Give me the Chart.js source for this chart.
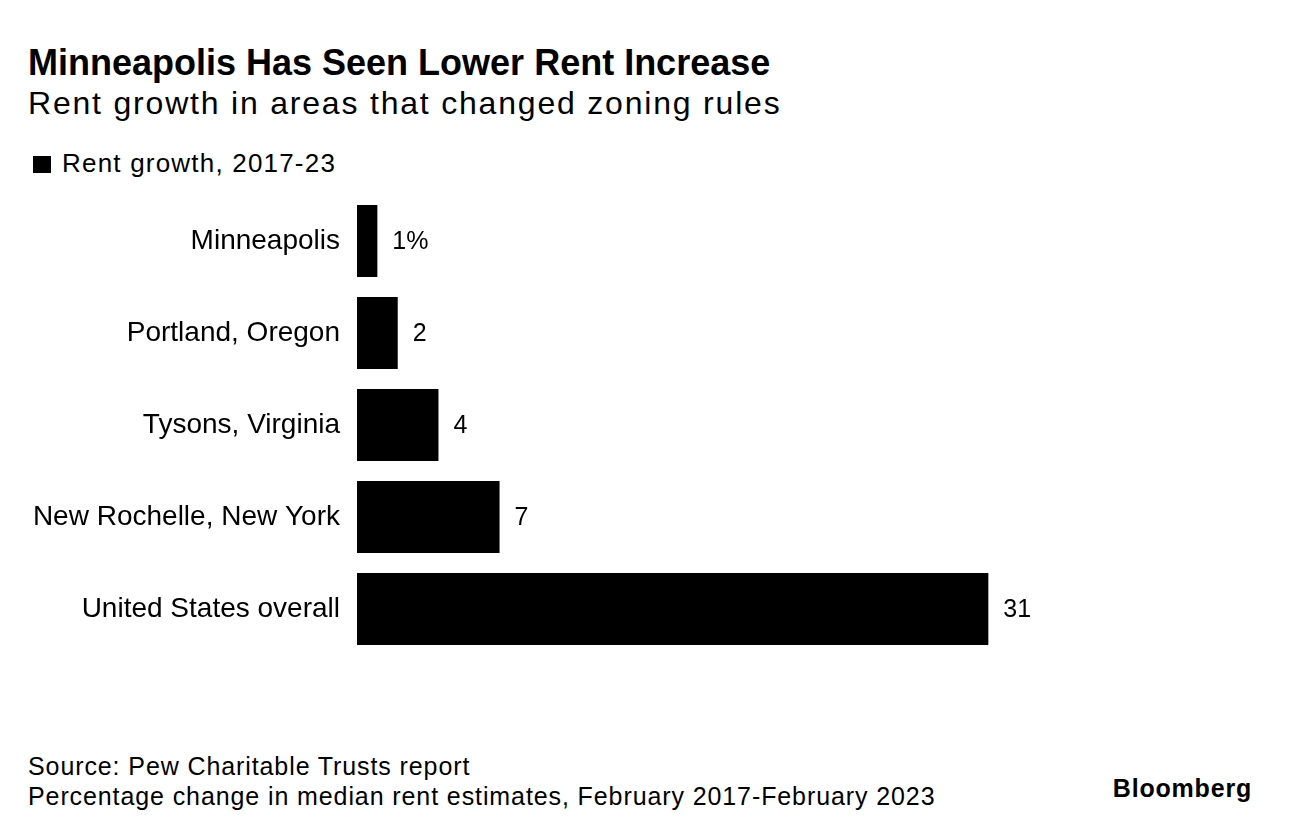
<!DOCTYPE html>
<html>
<head>
<meta charset="utf-8">
<script src="https://cdn.jsdelivr.net/npm/chart.js@4.4.1/dist/chart.umd.min.js"></script>
<style>
    body {
        margin: 0;
        width: 1292px;
        height: 836px;
        background: #fff;
        font-family: "Liberation Sans", Arial, sans-serif;
        color: #000;
        position: relative;
        overflow: hidden;
    }
    .title {
        position: absolute;
        left: 28px;
        top: 42px;
        font-size: 36px;
        font-weight: bold;
        white-space: nowrap;
    }
    .subtitle {
        position: absolute;
        left: 28px;
        top: 85px;
        font-size: 32px;
        letter-spacing: 1.8px;
        white-space: nowrap;
    }
    .legend-swatch {
        position: absolute;
        left: 33px;
        top: 156px;
        width: 18px;
        height: 17px;
        background: #000;
    }
    .legend-text {
        position: absolute;
        left: 62px;
        top: 148px;
        font-size: 26px;
        letter-spacing: 1.2px;
        white-space: nowrap;
    }
    .footer {
        position: absolute;
        left: 28px;
        top: 751px;
        font-size: 25px;
        line-height: 30px;
        letter-spacing: 0.9px;
        white-space: nowrap;
    }
    .brand {
        position: absolute;
        right: 40px;
        top: 774px;
        font-size: 25px;
        font-weight: bold;
        letter-spacing: 0.8px;
    }
    .chart-wrap {
        position: absolute;
        left: 0;
        top: 185px;
        width: 1292px;
        height: 480px;
    }
</style>
</head>
<body>
<div class="title">Minneapolis Has Seen Lower Rent Increase</div>
<div class="subtitle">Rent growth in areas that changed zoning rules</div>
<div class="legend-swatch"></div>
<div class="legend-text">Rent growth, 2017-23</div>
<div class="chart-wrap"><canvas id="rentChart"></canvas></div>
<div class="footer">Source: Pew Charitable Trusts report<br>Percentage change in median rent estimates, February 2017-February 2023</div>
<div class="brand">Bloomberg</div>

<script>
// Chart data
const categories = ['Minneapolis', 'Portland, Oregon', 'Tysons, Virginia', 'New Rochelle, New York', 'United States overall'];
const rentGrowth = [1, 2, 4, 7, 31];
const valueLabels = ['1%', '2', '4', '7', '31'];

const labelFont = '"Liberation Sans", Arial, sans-serif';

// Draws the value next to the end of each bar
const barValuePlugin = {
    id: 'barValues',
    afterDatasetsDraw(chart) {
        const ctx = chart.ctx;
        const meta = chart.getDatasetMeta(0);
        ctx.save();
        ctx.fillStyle = '#000';
        ctx.font = '25px ' + labelFont;
        ctx.textAlign = 'left';
        ctx.textBaseline = 'middle';
        meta.data.forEach((bar, i) => {
            ctx.fillText(valueLabels[i], bar.x + 15, bar.y + 1);
        });
        ctx.restore();
    }
};

function setupChart() {
    const ctx = document.getElementById('rentChart').getContext('2d');
    new Chart(ctx, {
        type: 'bar',
        data: {
            labels: categories,
            datasets: [{
                label: 'Rent growth, 2017-23',
                data: rentGrowth,
                backgroundColor: '#000',
                borderWidth: 0,
                categoryPercentage: 1,
                barPercentage: 0.78
            }]
        },
        options: {
            indexAxis: 'y',
            responsive: true,
            maintainAspectRatio: false,
            animation: false,
            layout: {
                padding: { top: 10, bottom: 10, left: 0, right: 100 }
            },
            plugins: {
                legend: { display: false },
                tooltip: { enabled: false }
            },
            scales: {
                x: {
                    display: false,
                    min: 0,
                    max: 41
                },
                y: {
                    // fixed label column, no extra label padding above/below
                    afterFit: scale => {
                        scale.width = 357;
                        scale.paddingTop = 0;
                        scale.paddingBottom = 0;
                    },
                    grid: { display: false, drawTicks: false },
                    border: { display: false },
                    ticks: {
                        color: '#000',
                        padding: 17,
                        font: { family: labelFont, size: 28 }
                    }
                }
            }
        },
        plugins: [barValuePlugin]
    });
}

document.addEventListener('DOMContentLoaded', setupChart);
</script>
</body>
</html>
